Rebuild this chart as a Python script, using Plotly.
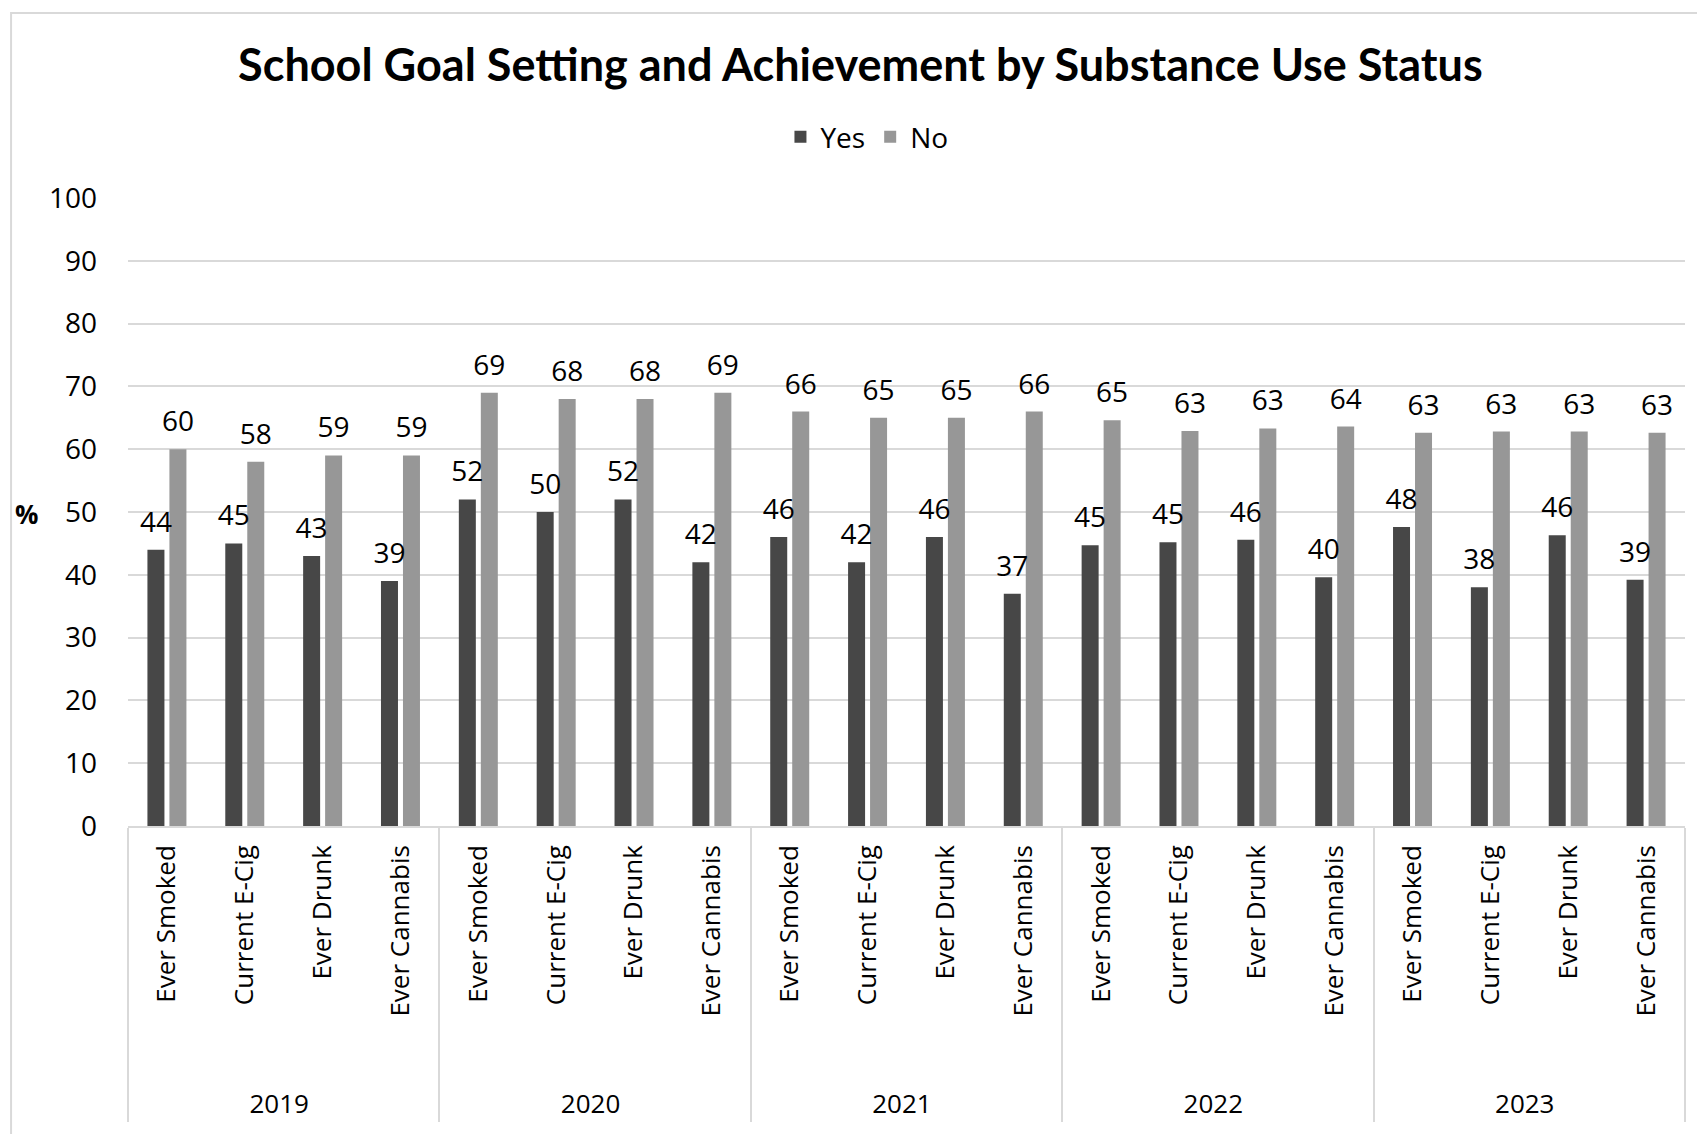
import plotly.graph_objects as go

years = ["2019", "2020", "2021", "2022", "2023"]
measures = ["Ever Smoked", "Current E-Cig", "Ever Drunk", "Ever Cannabis"]

yes_values = [44, 45, 43, 39,
              52, 50, 52, 42,
              46, 42, 46, 37,
              44.7, 45.2, 45.6, 39.6,
              47.6, 38.0, 46.3, 39.2]
no_values = [60, 58, 59, 59,
             69, 68, 68, 69,
             66, 65, 65, 66,
             64.6, 62.9, 63.3, 63.6,
             62.6, 62.8, 62.8, 62.6]

y_ticks = [0, 10, 20, 30, 40, 50, 60, 70, 80, 90, 100]

YES_COLOR = "#474747"
NO_COLOR = "#979797"
GRID = "#d9d9d9"
FONT = "Open Sans"

# no-break spaces push the labels / year row down a little, as in the original
nb = "\u00a0"
x_years = [y for y in years for _ in measures]
x_measures = [nb * 7 + m + nb for m in measures] * len(years)
x = [x_years, x_measures]

series = [("Yes", yes_values, YES_COLOR), ("No", no_values, NO_COLOR)]

fig = go.Figure()

for name, vals, color in series:
    fig.add_trace(
        go.Bar(
            x=x,
            y=vals,
            name=name,
            offsetgroup=name,
            marker=dict(color=color, line=dict(width=0)),
            hoverinfo="x+y+name",
        )
    )

# value labels, sat above each bar (invisible marker gives the offset)
for name, vals, color in series:
    fig.add_trace(
        go.Scatter(
            x=x,
            y=vals,
            mode="markers+text",
            offsetgroup=name,
            marker=dict(size=16, opacity=0),
            texttemplate="%{y:.0f}",
            textposition="top center",
            textfont=dict(family=FONT, size=28, color="#000000"),
            cliponaxis=False,
            showlegend=False,
            hoverinfo="skip",
        )
    )

fig.update_layout(
    width=1697,
    height=1134,
    margin=dict(l=128, r=12, t=198, b=308),
    paper_bgcolor="white",
    plot_bgcolor="white",
    font=dict(family=FONT, size=26, color="#000000"),
    barmode="group",
    scattermode="group",
    bargap=0.435,
    bargroupgap=0.227,
    title=dict(
        text="<b>School Goal Setting and Achievement by Substance Use Status</b>",
        font=dict(family="Lato", size=45, color="#000000"),
        x=0.507,
        xanchor="center",
        y=1 - 65 / 1134,
        yanchor="middle",
    ),
    legend=dict(
        orientation="h",
        x=0.4746,
        xanchor="center",
        y=1.097,
        yanchor="middle",
        font=dict(family=FONT, size=28),
        traceorder="normal",
    ),
    xaxis=dict(
        tickangle=-90,
        tickfont=dict(family=FONT, size=26),
        showline=True,
        linecolor=GRID,
        linewidth=2,
        showdividers=True,
        dividercolor=GRID,
        dividerwidth=2,
        ticks="",
        showgrid=False,
    ),
    yaxis=dict(
        range=[0, 100],
        tickvals=y_ticks,
        tickfont=dict(family=FONT, size=28),
        showgrid=True,
        gridcolor=GRID,
        gridwidth=2,
        zeroline=False,
        showline=False,
        ticks="",
        ticklabelstandoff=30,
    ),
    annotations=[
        dict(
            text="<b>%</b>",
            xref="paper",
            yref="paper",
            x=-0.065,
            y=0.497,
            xanchor="center",
            yanchor="middle",
            showarrow=False,
            font=dict(family=FONT, size=26),
        )
    ],
    shapes=[
        dict(
            type="rect",
            xref="paper",
            yref="paper",
            x0=-0.0751,
            x1=1.02,
            y0=-0.6,
            y1=1.2946,
            line=dict(color=GRID, width=2),
            layer="below",
        )
    ],
)

fig.write_html(
    "out.html",
    config={"displayModeBar": False},
    post_script="document.body.style.margin = '0';",
)
